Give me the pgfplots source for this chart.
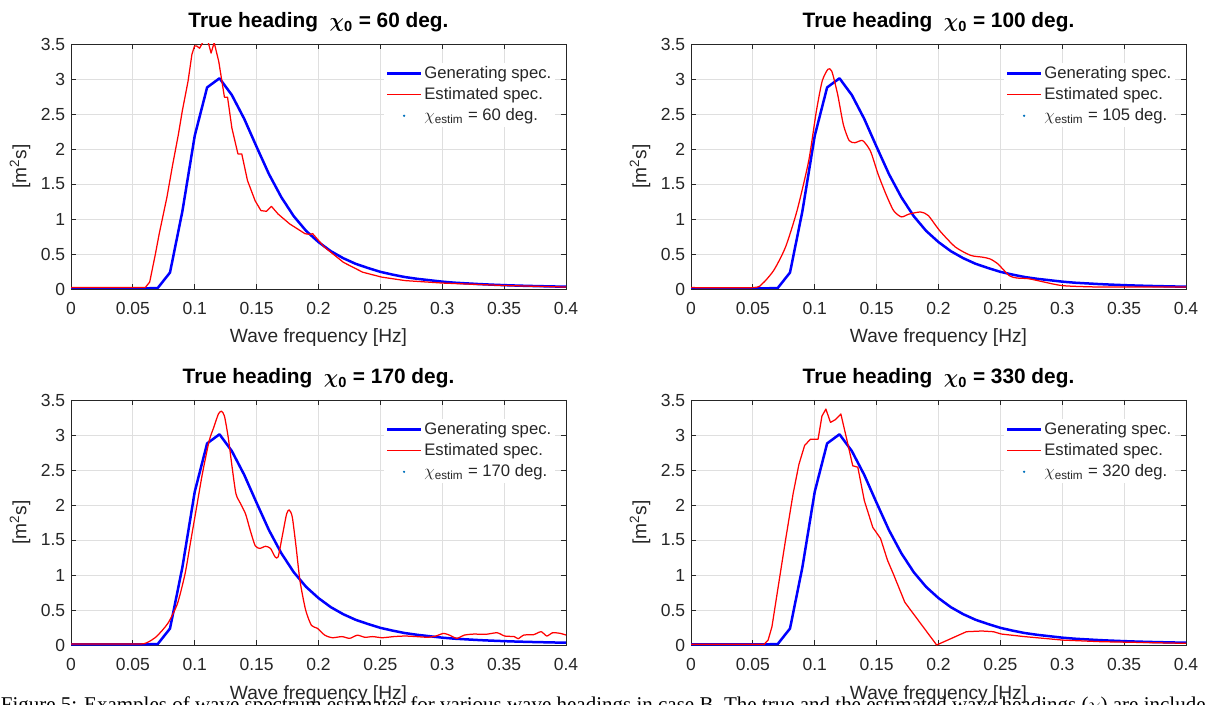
\documentclass[border=0pt]{standalone}
\usepackage{fontspec}
\setmainfont{Liberation Sans}
\newfontfamily\capfont{Liberation Serif}
\usepackage{amsmath}
\usepackage{pgfplots}
\pgfplotsset{compat=1.18}
\definecolor{axgray}{RGB}{38,38,38}
\definecolor{gridgray}{RGB}{223,223,223}
\definecolor{genblue}{RGB}{0,0,255}
\definecolor{estred}{RGB}{255,0,0}
\definecolor{dotblue}{RGB}{0,114,189}

\pgfplotsset{
  spec/.style={
    scale only axis, width=297pt, height=147pt,
    xmin=0, xmax=0.4, ymin=0, ymax=3.5,
    xtick={0,0.05,0.1,0.15,0.2,0.25,0.3,0.35,0.4},
    xticklabels={0,0.05,0.1,0.15,0.2,0.25,0.3,0.35,0.4},
    ytick={0,0.5,1,1.5,2,2.5,3,3.5},
    yticklabels={0,0.5,1,1.5,2,2.5,3,3.5},
    grid=major,
    major grid style={color=gridgray, line width=0.5pt},
    axis line style={color=axgray, line width=0.5pt},
    tick style={color=axgray, line width=0.5pt},
    tick align=inside, tick pos=both, major tick length=3pt,
    ticklabel style={font=\fontsize{10.5}{12}\selectfont, text=axgray},
    xticklabel style={anchor=base, yshift=-15.5pt},
    xlabel={Wave frequency [Hz]},
    ylabel={[m\textsuperscript{2}s]},
    label style={font=\fontsize{11.5}{13}\selectfont, text=axgray},
    xlabel style={at={(axis description cs:0.5,0)}, anchor=base, yshift=-32.4pt},
    ylabel style={at={(axis description cs:-0.103,0.5)}, anchor=center},
    title style={at={(axis description cs:0.5,1)}, anchor=base, yshift=3.6pt,
      font=\bfseries\fontsize{12.5}{14}\selectfont, text=black},
    legend style={draw=none, fill=white, at={(axis description cs:0.632,0.925)},
      anchor=north west, font=\fontsize{10}{12}\selectfont, text=axgray,
      inner sep=1pt, row sep=1.5pt, cells={anchor=west}, nodes={inner sep=1.2pt}},
    legend image code/.code={\draw[#1] (0pt,0pt) -- (20.4pt,0pt);},
  },
  gen/.style={color=genblue, line width=1.5pt, line join=round},
  est/.style={color=estred, line width=0.75pt, line join=round},
  dotimg/.style={legend image code/.code={\fill[dotblue] (10.2pt,0pt) circle (0.45pt);}},
}

\pgfplotstableread{
f v
0 0.01
0.06 0.01
0.07 0.012
0.08 0.235
0.09 1.11
0.1 2.19
0.11 2.88
0.12 3.01
0.13 2.77
0.14 2.43
0.15 2.03
0.16 1.64
0.17 1.31
0.18 1.04
0.19 0.83
0.2 0.67
0.21 0.54
0.22 0.44
0.23 0.36
0.24 0.30
0.25 0.245
0.26 0.205
0.27 0.17
0.28 0.145
0.29 0.125
0.3 0.105
0.31 0.09
0.32 0.08
0.33 0.07
0.34 0.062
0.35 0.055
0.36 0.049
0.37 0.044
0.38 0.04
0.39 0.036
0.4 0.033
}\gentab

\pgfplotstableread{
f v
0 0.02
0.06 0.02
0.0636 0.10
0.0682 0.50
0.0713 0.79
0.0775 1.31
0.0822 1.78
0.0868 2.21
0.0899 2.54
0.0946 2.97
0.0977 3.35
0.0998 3.47
0.1017 3.47
0.1039 3.44
0.1064 3.52
0.108 3.58
0.1105 3.55
0.1132 3.37
0.1157 3.52
0.1194 3.25
0.124 2.74
0.1265 2.74
0.130 2.30
0.1349 1.93
0.138 1.93
0.1426 1.55
0.1488 1.26
0.1535 1.12
0.158 1.11
0.162 1.18
0.1674 1.07
0.1767 0.93
0.1891 0.79
0.193 0.78
0.1953 0.79
0.2047 0.60
0.2202 0.38
0.2357 0.24
0.251 0.17
0.27 0.12
0.3 0.085
0.35 0.05
0.4 0.028
}\estA

\pgfplotstableread{
f v
0 0.02
0.05 0.02
0.0577 0.076
0.067 0.27
0.0764 0.60
0.0857 1.12
0.0951 1.83
0.1013 2.54
0.106 2.97
0.1107 3.14
0.1138 3.11
0.1185 2.78
0.1231 2.35
0.1278 2.12
0.1325 2.09
0.1387 2.12
0.145 1.97
0.1512 1.64
0.1574 1.36
0.1637 1.12
0.17 1.03
0.1762 1.07
0.1855 1.10
0.1917 1.05
0.2011 0.83
0.2136 0.60
0.226 0.48
0.2354 0.455
0.2416 0.43
0.2479 0.36
0.2572 0.19
0.2634 0.157
0.2728 0.147
0.2852 0.10
0.3009 0.047
0.332 0.028
0.4 0.028
}\estB

\pgfplotstableread{
f v
0 0.014
0.0535 0.014
0.0613 0.033
0.069 0.12
0.0783 0.31
0.086 0.59
0.0922 1.02
0.0968 1.49
0.1015 1.97
0.1061 2.44
0.1117 2.92
0.1154 3.11
0.1191 3.30
0.1216 3.34
0.124 3.27
0.1271 2.96
0.1302 2.54
0.1333 2.16
0.137 2.02
0.1411 1.87
0.1448 1.64
0.1488 1.42
0.1525 1.38
0.1572 1.41
0.1612 1.38
0.1649 1.26
0.1674 1.26
0.1711 1.59
0.1742 1.87
0.1763 1.93
0.1788 1.83
0.1819 1.40
0.185 0.92
0.1896 0.50
0.1943 0.28
0.199 0.24
0.2051 0.14
0.2113 0.104
0.219 0.12
0.2252 0.095
0.2314 0.14
0.2376 0.11
0.2438 0.12
0.2515 0.104
0.2608 0.12
0.27 0.128
0.2793 0.12
0.2886 0.11
0.2948 0.128
0.301 0.166
0.3057 0.142
0.3118 0.095
0.318 0.142
0.3257 0.156
0.335 0.152
0.3443 0.175
0.3505 0.128
0.3582 0.12
0.3613 0.09
0.366 0.142
0.3737 0.147
0.3799 0.19
0.3845 0.128
0.3892 0.175
0.3954 0.166
0.4 0.142
}\estC

\pgfplotstableread{
f v
0 0.01
0.0591 0.01
0.0623 0.07
0.0654 0.26
0.07 0.78
0.0763 1.49
0.0825 2.16
0.0872 2.58
0.0918 2.85
0.0965 2.94
0.0996 2.94
0.1027 2.94
0.1058 3.27
0.109 3.37
0.1127 3.18
0.1167 3.22
0.1211 3.30
0.1261 2.92
0.1307 2.56
0.1348 2.54
0.1401 2.06
0.1469 1.68
0.1532 1.52
0.1588 1.21
0.1634 1.02
0.1728 0.61
0.1985 0.0
0.2226 0.19
0.235 0.20
0.2444 0.19
0.2506 0.157
0.2693 0.12
0.3004 0.07
0.3315 0.047
0.4 0.024
}\estD

\begin{document}
\begin{tikzpicture}
\path[use as bounding box, clip] (0pt,0pt) rectangle (723pt,423pt);
\node[anchor=base west, inner sep=0pt, font=\capfont\fontsize{12.6}{15}\selectfont]
  at (0.3pt,-4.0pt) {Figure 5: Examples of wave spectrum estimates for various wave headings in case B. The true and the estimated wave headings ($\chi$) are included};

\begin{axis}[spec, at={(42.6pt,249.6pt)}, anchor=south west,
  title={True heading\ \ {\boldmath$\chi$}\textsubscript{0} = 60 deg.}]
\addplot[gen] table[x=f,y=v] {\gentab};
\addplot[est] table[x=f,y=v] {\estA};
\addlegendimage{dotimg}
\legend{Generating spec.,Estimated spec.,$\chi_{\text{estim}}$ = 60 deg.}
\end{axis}

\begin{axis}[spec, at={(414.6pt,249.6pt)}, anchor=south west,
  title={True heading\ \ {\boldmath$\chi$}\textsubscript{0} = 100 deg.}]
\addplot[gen] table[x=f,y=v] {\gentab};
\addplot[est, smooth, tension=0.4] table[x=f,y=v] {\estB};
\addlegendimage{dotimg}
\legend{Generating spec.,Estimated spec.,$\chi_{\text{estim}}$ = 105 deg.}
\end{axis}

\begin{axis}[spec, at={(42.6pt,36pt)}, anchor=south west,
  title={True heading\ \ {\boldmath$\chi$}\textsubscript{0} = 170 deg.}]
\addplot[gen] table[x=f,y=v] {\gentab};
\addplot[est, smooth, tension=0.4] table[x=f,y=v] {\estC};
\addlegendimage{dotimg}
\legend{Generating spec.,Estimated spec.,$\chi_{\text{estim}}$ = 170 deg.}
\end{axis}

\begin{axis}[spec, at={(414.6pt,36pt)}, anchor=south west,
  title={True heading\ \ {\boldmath$\chi$}\textsubscript{0} = 330 deg.}]
\addplot[gen] table[x=f,y=v] {\gentab};
\addplot[est] table[x=f,y=v] {\estD};
\addlegendimage{dotimg}
\legend{Generating spec.,Estimated spec.,$\chi_{\text{estim}}$ = 320 deg.}
\end{axis}
\end{tikzpicture}
\end{document}
